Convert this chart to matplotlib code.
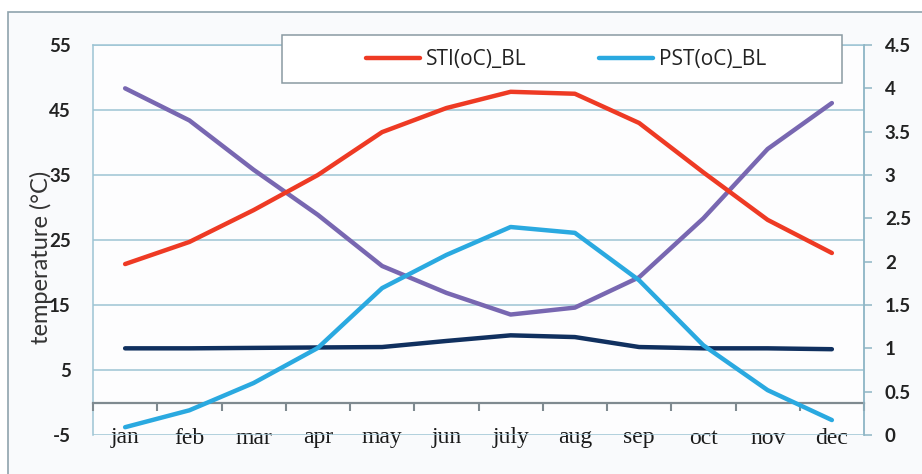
import matplotlib
matplotlib.use("Agg")
import matplotlib.pyplot as plt
from matplotlib.patches import Rectangle
import numpy as np

months = ["jan", "feb", "mar", "apr", "may", "jun", "july", "aug", "sep", "oct", "nov", "dec"]
sti = [21.3, 24.7, 29.6, 35.0, 41.6, 45.3, 47.8, 47.5, 43.0, 35.4, 28.1, 23.0]
pst = [-3.8, -1.2, 3.0, 8.4, 17.6, 22.7, 27.0, 26.1, 18.8, 8.8, 1.9, -2.7]
purple_series = [4.0, 3.63, 3.06, 2.54, 1.95, 1.64, 1.39, 1.47, 1.82, 2.5, 3.3, 3.83]
navy_series = [1.0, 1.0, 1.005, 1.01, 1.015, 1.085, 1.15, 1.13, 1.015, 1.0, 1.0, 0.99]
left_ticks = [-5, 5, 15, 25, 35, 45, 55]
right_ticks = [0, 0.5, 1, 1.5, 2, 2.5, 3, 3.5, 4, 4.5]
right_labels = ["0", "0.5", "1", "1.5", "2", "2.5", "3", "3.5", "4", "4.5"]

W, H = 922, 474
fig = plt.figure(figsize=(W / 100, H / 100), dpi=100, facecolor="white")

# outer chart border
fig.patches.append(Rectangle((8 / W, -0.01), 1.0, 1 - 12 / H + 0.01, transform=fig.transFigure,
                             facecolor="#f9fafc", edgecolor="#8fa3ad", linewidth=1.2, zorder=-10))

ax = fig.add_axes([93 / W, 1 - 435 / H, (864 - 93) / W, (435 - 45) / H])
ax.set_facecolor("#fdfdfe")
x = np.arange(len(months))

ax.set_xlim(-0.5, len(months) - 0.5)
ax.set_ylim(-5, 55)
ax.set_yticks(left_ticks)
ax.set_yticklabels([str(t) for t in left_ticks], fontsize=13.5, fontfamily="Lato", fontweight="bold", color="#222222")
ax.tick_params(axis="y", length=0, pad=16)
ax.yaxis.grid(True, color="#9dc4d4", linewidth=1.1)
ax.set_axisbelow(True)

# category axis crossing at 0
ax.spines["bottom"].set_position(("data", 0))
ax.spines["bottom"].set_color("#7f8a90")
ax.spines["bottom"].set_linewidth(1.6)
ax.set_xticks(x)
ax.set_xticklabels(months, fontsize=17, fontfamily="Liberation Serif", color="#1a1a1a")
ax.tick_params(axis="x", which="major", length=0, pad=18)
for s in ["left", "right", "top"]:
    ax.spines[s].set_color("#9dc4d4")
    ax.spines[s].set_linewidth(1.1)

ax.set_ylabel("temperature (°C)", fontsize=17, fontfamily="Lato", color="#333333")
ax.yaxis.set_label_coords(-0.053, 0.455)

ax2 = ax.twinx()
ax2.set_ylim(0, 4.5)
ax2.set_yticks(right_ticks)
ax2.set_yticklabels(right_labels, fontsize=13.5, fontfamily="Lato", fontweight="bold", color="#222222")
ax2.tick_params(axis="y", length=6, width=1.1, color="#8fb5c5", pad=9)
for s in ["left", "top", "bottom"]:
    ax2.spines[s].set_visible(False)
ax2.spines["right"].set_color("#8fb5c5")
ax2.spines["right"].set_linewidth(1.1)

# category boundary tick marks below the axis line (drawn on top axes)
boundaries = np.arange(len(months) + 1) - 0.5
ax2.vlines(boundaries, -1.25, 0, colors="#7f8a90", linewidth=1.5, zorder=2,
           transform=ax.transData, clip_on=False)

lw = 3.2
ax2.plot(x, purple_series, color="#7867b1", lw=lw, solid_capstyle="round", zorder=3)
ax2.plot(x, navy_series, color="#10305f", lw=lw, solid_capstyle="round", zorder=3)
l1, = ax2.plot(x, sti, color="#ee3a24", lw=lw, solid_capstyle="round", zorder=4,
               transform=ax.transData)
l2, = ax2.plot(x, pst, color="#2aa9e0", lw=lw, solid_capstyle="round", zorder=4,
               transform=ax.transData)

# legend box
fig.patches.append(Rectangle((282 / W, 1 - 83 / H), (842 - 282) / W, (83 - 35) / H,
                             transform=fig.transFigure, facecolor="white",
                             edgecolor="#8a9aa2", linewidth=1.1, zorder=5))
leg = fig.legend([l1, l2], ["STI(oC)_BL", "PST(oC)_BL"], ncol=2,
                 bbox_to_anchor=(566 / W, 1 - 60 / H),
                 loc="center", frameon=False,
                 handlelength=2.6, handletextpad=0.25, borderaxespad=0, columnspacing=3.5,
                 prop={"family": "Open Sans", "size": 15})
leg.set_zorder(6)
for t in leg.get_texts():
    t.set_color("#222222")

fig.savefig("out.png", dpi=100, facecolor="white")
